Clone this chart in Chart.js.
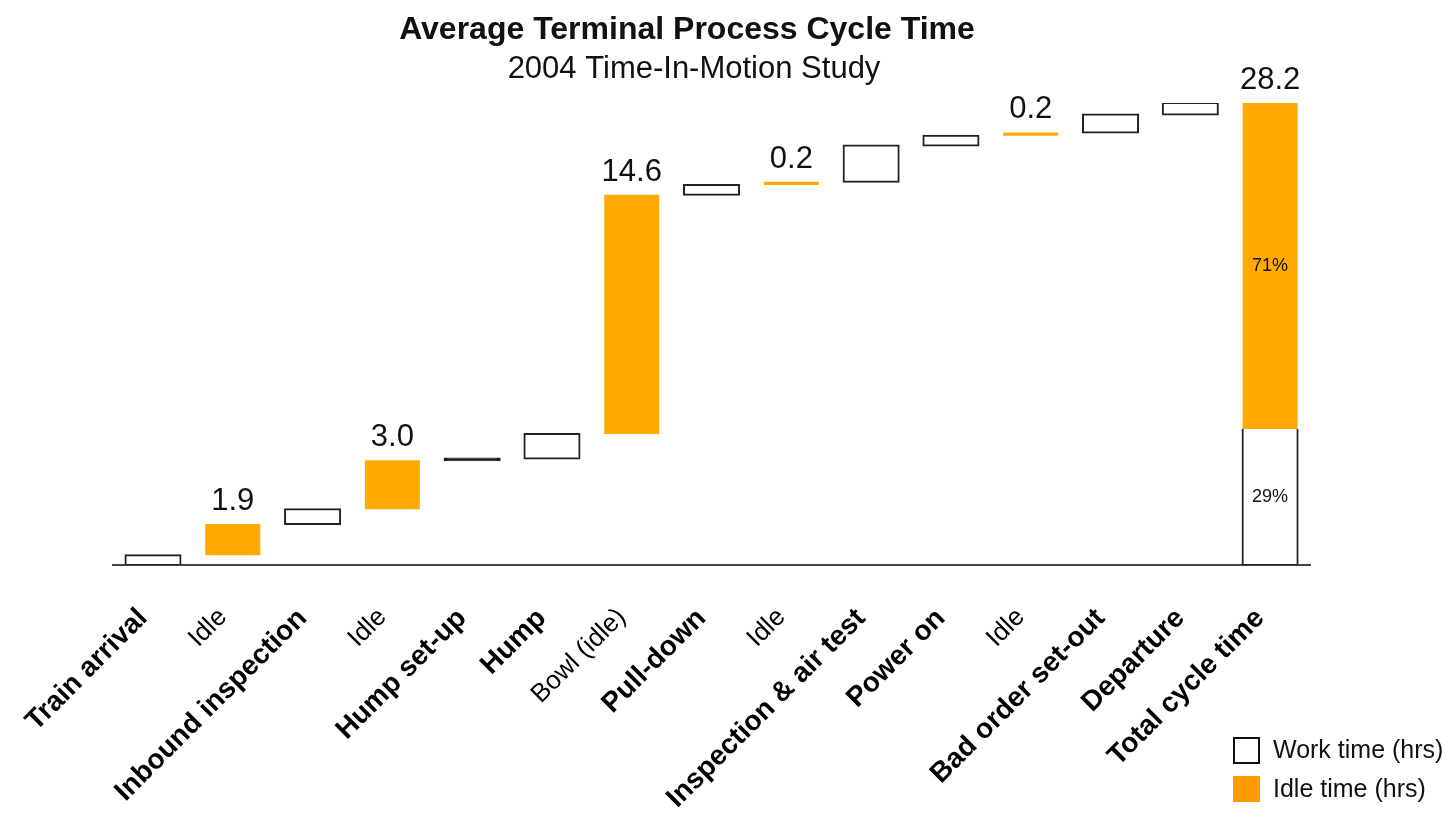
<!DOCTYPE html>
<html>
<head>
<meta charset="utf-8">
<script src="https://cdn.jsdelivr.net/npm/chart.js@4.4.1/dist/chart.umd.min.js"></script>
<style>
  html, body { margin: 0; padding: 0; background: #ffffff; }
  #wrap { width: 1454px; height: 830px; position: relative; }
</style>
</head>
<body>
<div id="wrap"><canvas id="cycle" width="1454" height="830"></canvas></div>
<script>
// Process steps in terminal order; the last one is the overall total.
const categories = [
  'Train arrival', 'Idle', 'Inbound inspection', 'Idle', 'Hump set-up', 'Hump',
  'Bowl (idle)', 'Pull-down', 'Idle', 'Inspection & air test', 'Power on', 'Idle',
  'Bad order set-out', 'Departure', 'Total cycle time'
];
// Hours of hands-on work per step (null where the step is idle time).
const workHours = [0.6, null, 0.9, null, 0.1, 1.5, null, 0.6, null, 2.2, 0.6, null, 1.1, 0.7, null];
// Hours the train sits idle (null where the step is work).
const idleHours = [null, 1.9, null, 3.0, null, null, 14.6, null, 0.2, null, null, 0.2, null, null, null];

const titleText = 'Average Terminal Process Cycle Time';
const subtitleText = '2004 Time-In-Motion Study';
const legendLabels = ['Work time (hrs)', 'Idle time (hrs)'];

const FONT = '"Liberation Sans", Arial, Helvetica, sans-serif';
const ORANGE = '#FFAA00';
const totalIndex = categories.length - 1;

// Waterfall: each step floats on top of the running total.
let running = 0;
const workBars = [];
const idleBars = [];
for (let i = 0; i < totalIndex; i++) {
  if (workHours[i] != null) {
    workBars.push([running, running + workHours[i]]);
    idleBars.push(null);
    running += workHours[i];
  } else {
    idleBars.push([running, running + idleHours[i]]);
    workBars.push(null);
    running += idleHours[i];
  }
}
const totalWork = workHours.reduce((s, v) => s + (v || 0), 0);
const totalIdle = idleHours.reduce((s, v) => s + (v || 0), 0);
const totalHours = totalWork + totalIdle;
workBars.push([0, totalWork]);
idleBars.push([totalWork, totalHours]);

const annotate = {
  id: 'annotate',
  afterDatasetsDraw(chart) {
    const ctx = chart.ctx;
    ctx.save();
    ctx.fillStyle = '#111';
    ctx.textAlign = 'center';
    // hour labels above each idle bar and the total
    ctx.font = '31px ' + FONT;
    ctx.textBaseline = 'alphabetic';
    const idleMeta = chart.getDatasetMeta(1);
    idleMeta.data.forEach((bar, i) => {
      if (idleBars[i] == null) return;
      const v = i === totalIndex ? totalHours : idleHours[i];
      ctx.fillText(v.toFixed(1), bar.x, bar.y - 14);
    });
    // shares inside the total bar
    ctx.font = '18px ' + FONT;
    ctx.textBaseline = 'middle';
    const idleTotal = idleMeta.data[totalIndex];
    const workTotal = chart.getDatasetMeta(0).data[totalIndex];
    ctx.fillText(Math.round(totalIdle / totalHours * 100) + '%', idleTotal.x, (idleTotal.y + idleTotal.base) / 2);
    ctx.fillText(Math.round(totalWork / totalHours * 100) + '%', workTotal.x, (workTotal.y + workTotal.base) / 2);
    ctx.restore();
  },
  afterDraw(chart) {
    const ctx = chart.ctx;
    ctx.save();
    ctx.fillStyle = '#111';
    ctx.textAlign = 'center';
    ctx.textBaseline = 'alphabetic';
    ctx.font = 'bold 32px ' + FONT;
    ctx.fillText(titleText, 687, 39);
    ctx.font = '31px ' + FONT;
    ctx.fillText(subtitleText, 694, 78);

    // legend
    ctx.lineWidth = 2;
    ctx.strokeStyle = '#111';
    ctx.fillStyle = '#ffffff';
    ctx.fillRect(1234, 738, 25, 25);
    ctx.strokeRect(1234, 738, 25, 25);
    ctx.fillStyle = '#FF9A00';
    ctx.fillRect(1233, 776, 27, 26);
    ctx.fillStyle = '#111';
    ctx.textAlign = 'left';
    ctx.textBaseline = 'middle';
    ctx.font = '25px ' + FONT;
    ctx.fillText(legendLabels[0], 1273, 751);
    ctx.fillText(legendLabels[1], 1273, 790);
    ctx.restore();
  }
};

new Chart(document.getElementById('cycle'), {
  type: 'bar',
  data: {
    labels: categories,
    datasets: [
      {
        label: legendLabels[0],
        data: workBars,
        grouped: false,
        // very short steps collapse to a solid dark line
        backgroundColor: ctx => ((workHours[ctx.dataIndex] || 1) < 0.15 ? '#222222' : '#ffffff'),
        borderColor: '#222222',
        borderWidth: 2,
        inflateAmount: 1,
        borderSkipped: ctx => (ctx.dataIndex === totalIndex ? 'top' : false),
        barPercentage: 0.69,
        categoryPercentage: 1
      },
      {
        label: legendLabels[1],
        data: idleBars,
        grouped: false,
        backgroundColor: ORANGE,
        borderWidth: 0,
        barPercentage: 0.69,
        categoryPercentage: 1
      }
    ]
  },
  options: {
    responsive: false,
    animation: false,
    devicePixelRatio: 1,
    layout: { padding: { left: 112, right: 144, top: 103, bottom: 0 } },
    plugins: {
      legend: { display: false },
      title: { display: false },
      tooltip: { enabled: false }
    },
    scales: {
      x: {
        grid: { display: false, drawTicks: false },
        border: { display: true, color: '#444', width: 2 },
        ticks: {
          autoSkip: false,
          maxRotation: 45,
          minRotation: 45,
          padding: 37,
          labelOffset: -10,
          color: '#000',
          font: ctx => ({
            family: FONT,
            size: idleHours[ctx.index] == null ? 28 : 26,
            weight: idleHours[ctx.index] == null ? 'bold' : 'normal'
          })
        },
        afterFit: scale => { scale.height = 830 - 565; }
      },
      y: {
        display: false,
        min: 0,
        max: totalHours
      }
    }
  },
  plugins: [annotate]
});
</script>
</body>
</html>
